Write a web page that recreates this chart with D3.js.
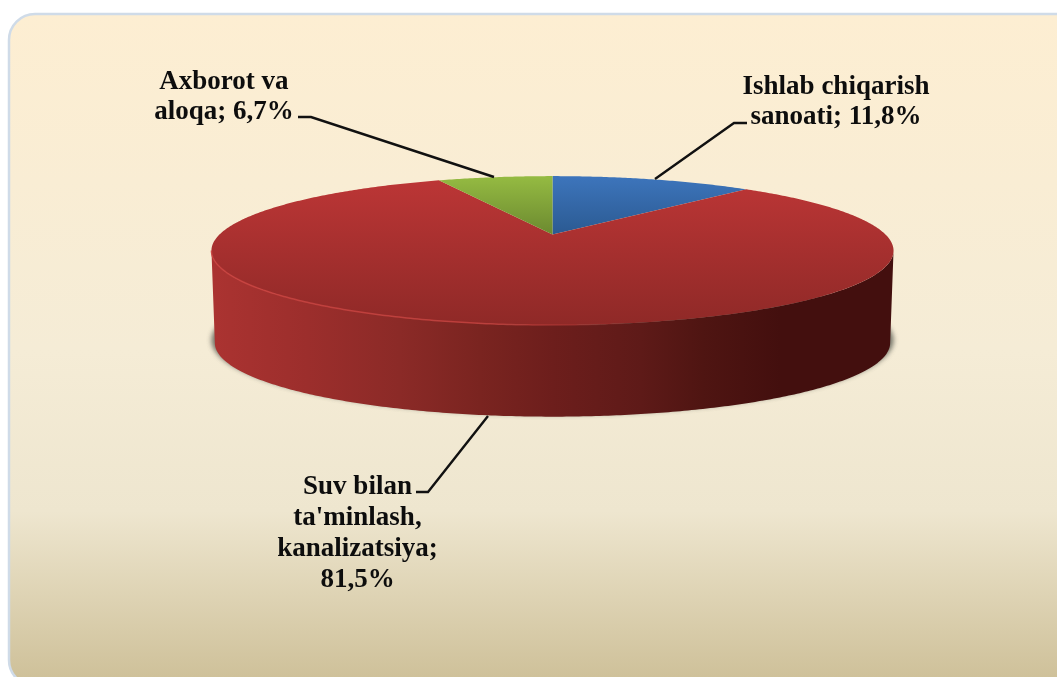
<!DOCTYPE html>
<meta charset="UTF-8">
<style>
html, body { margin: 0; padding: 0; background: #fff; overflow: hidden; }
text { font-family: "Liberation Serif", serif; font-weight: bold; fill: #111; }
</style>
<body>
<script src="https://d3js.org/d3.v7.min.js"></script>
<script>

// data
var categories = ["Ishlab chiqarish sanoati", "Suv bilan ta'minlash, kanalizatsiya", "Axborot va aloqa"];
var shares = [11.8, 81.5, 6.7];
var topColors = [["#3d75bc", "#2b5a92"], ["#bd3636", "#8f2927"], ["#95bb42", "#6c8a30"]];
var labelLines = [
  ["Ishlab chiqarish", "sanoati; 11,8%"],
  ["Suv bilan", "ta'minlash,", "kanalizatsiya;", "81,5%"],
  ["Axborot va", "aloqa; 6,7%"]
];

var width = 1057, height = 677;
var cx = 552.5, cy = 234.5;      // where the slices meet
var rimA = 333, rimB = 71, persp = 0.216;  // tilted disc
var depth = 92.5;

var svg = d3.select("body").append("svg")
    .attr("width", width)
    .attr("height", height);

var defs = svg.append("defs");

// gradient helper
function grad(id, stops, horizontal) {
  var g = defs.append("linearGradient").attr("id", id)
      .attr("x1", 0).attr("y1", 0)
      .attr("x2", horizontal ? 1 : 0).attr("y2", horizontal ? 0 : 1);
  stops.forEach(function(s) {
    g.append("stop").attr("offset", s[0]).attr("stop-color", s[1]);
  });
}

grad("bg", [[0, "#fdeed2"], [0.5, "#f5ecd6"], [0.74, "#eee6cf"], [1, "#cdbf97"]]);
grad("wall", [[0, "#ab3331"], [0.14, "#9c2e2c"], [0.276, "#8b2a27"], [0.394, "#7a2420"], [0.5, "#6d1e1c"],
  [0.63, "#5e1a18"], [0.72, "#4f1512"], [0.835, "#430f0e"], [1, "#430f0e"]], true);
topColors.forEach(function(c, i) {
  defs.append("linearGradient").attr("id", "top" + i)
      .attr("gradientUnits", "userSpaceOnUse")
      .attr("x1", 0).attr("y1", 176).attr("x2", 0).attr("y2", i == 1 ? 325 : 234)
      .selectAll("stop").data(c).join("stop")
      .attr("offset", function(d, j) { return j; })
      .attr("stop-color", function(d) { return d; });
});

// the light edge only shows on the left part of the front
var rimGrad = defs.append("linearGradient").attr("id", "rim")
    .attr("gradientUnits", "userSpaceOnUse")
    .attr("x1", 212).attr("y1", 0).attr("x2", 893).attr("y2", 0);
rimGrad.append("stop").attr("offset", 0).attr("stop-color", "#c8423f").attr("stop-opacity", 0.9);
rimGrad.append("stop").attr("offset", 0.4).attr("stop-color", "#c8423f").attr("stop-opacity", 0.8);
rimGrad.append("stop").attr("offset", 0.62).attr("stop-color", "#c8423f").attr("stop-opacity", 0);

defs.append("filter").attr("id", "soft").attr("x", "-10%").attr("y", "-30%").attr("width", "120%").attr("height", "160%")
  .append("feGaussianBlur").attr("stdDeviation", 2.5);
defs.append("filter").attr("id", "blur1")
  .append("feGaussianBlur").attr("stdDeviation", 0.55);

// panel
svg.append("rect")
    .attr("x", 9).attr("y", 14)
    .attr("width", 1100).attr("height", 672)
    .attr("rx", 26)
    .attr("fill", "url(#bg)")
    .attr("stroke", "#cfdbe8")
    .attr("stroke-width", 2.5);

// project an angle on the disc, clockwise from the top, into the picture
function project(a, k, dy) {
  k = k === undefined ? 1 : k;
  var u = Math.sin(a), v = Math.cos(a), w = 1 + persp * v;
  return [cx + k * rimA * u / w, cy + (dy || 0) - k * rimB * v / w];
}

var line = d3.line();
var pie = d3.pie().sort(null);
var arcs = pie(shares);

// where the disc reaches its left and right extremes
var edge = Math.acos(-persp);
var frontAngles = d3.range(edge, 2 * Math.PI - edge, 0.01).concat([2 * Math.PI - edge]);
var upper = frontAngles.map(function(a) { return project(a); });
var lower = frontAngles.map(function(a) { return project(a, 0.99, depth); }).reverse();

// shadow under the body
svg.append("path")
    .attr("d", line(d3.range(0, 2 * Math.PI, 0.01).map(function(a) { return project(a, 1, depth - 3); })) + "Z")
    .attr("fill", "#55574e")
    .attr("opacity", 0.8)
    .attr("filter", "url(#soft)");

// side wall
svg.append("path")
    .attr("d", line(upper.concat(lower)) + "Z")
    .attr("fill", "url(#wall)");

// slices
svg.selectAll("path.slice")
  .data(arcs)
  .join("path")
    .attr("class", "slice")
    .attr("fill", function(d, i) { return "url(#top" + i + ")"; })
    .attr("d", function(d) {
      var n = Math.ceil((d.endAngle - d.startAngle) / 0.01);
      var pts = d3.range(n + 1).map(function(j) {
        return project(d.startAngle + (d.endAngle - d.startAngle) * j / n);
      });
      return line([[cx, cy]].concat(pts)) + "Z";
    });

// light rim along the front edge
svg.append("path")
    .attr("d", line(upper))
    .attr("fill", "none")
    .attr("stroke", "url(#rim)")
    .attr("stroke-width", 1.5);

// leader lines
var leaders = [
  [[655, 179], [734, 123], [747, 123]],
  [[488, 416], [428, 492], [416, 492]],
  [[494, 177], [436, 158], [311, 117], [298, 117]]
];
svg.selectAll("path.leader")
  .data(leaders)
  .join("path")
    .attr("class", "leader")
    .attr("d", line)
    .attr("fill", "none")
    .attr("stroke", "#111")
    .attr("stroke-width", 2.4);

// labels
var labelX = [836, 357.5, 224];
var labelY = [94, 494, 89];
var lineGap = [29.5, 31, 30];
var labels = svg.selectAll("text.label")
  .data(labelLines)
  .join("text")
    .attr("class", "label")
    .attr("text-anchor", "middle")
    .attr("font-size", 27)
    .attr("filter", "url(#blur1)");
labels.selectAll("tspan")
  .data(function(d, i) { return d.map(function(t, j) { return {t: t, i: i, j: j}; }); })
  .join("tspan")
    .attr("x", function(d) { return labelX[d.i]; })
    .attr("y", function(d) { return labelY[d.i] + d.j * lineGap[d.i]; })
    .text(function(d) { return d.t; });

</script>
</body>
